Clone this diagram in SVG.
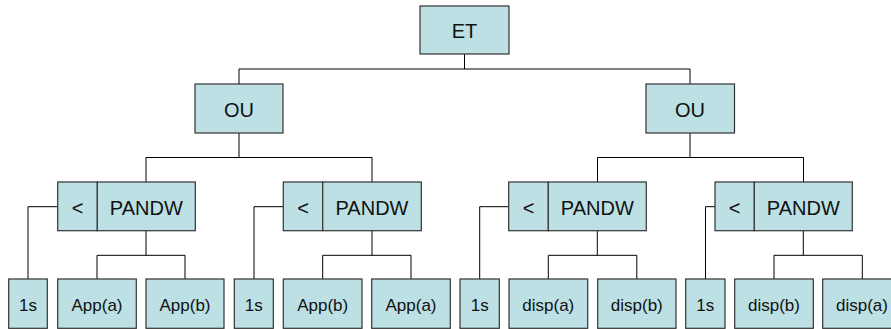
<svg xmlns="http://www.w3.org/2000/svg" width="891" height="329" viewBox="0 0 891 329">
<style>
.box{fill:#BCE0E3;stroke:#333;stroke-width:1.2}
.t{font-family:"Liberation Sans",Arial,sans-serif;font-size:20px;fill:#111;text-anchor:middle}
.s{font-family:"Liberation Sans",Arial,sans-serif;font-size:17px;fill:#111;text-anchor:middle}
.c{fill:none;stroke:#000;stroke-width:1}
</style>
<rect width="891" height="329" fill="#fff"/>
<g id="connectors">
<path class="c" d="M464.5 54V69M239 69H690M239 69V84M690 69V84"/>
<path class="c" d="M239 133V157.5M146 157.5H372M146 157.5V182M372 157.5V182"/>
<path class="c" d="M690 133V157.5M597.5 157.5H803.5M597.5 157.5V182M803.5 157.5V182"/>
<path class="c" d="M57.7 206.7H28V279M146 230.7V255.3M97 255.3H185M97 255.3V279M185 255.3V279"/>
<path class="c" d="M283.3 206.7H254V279M372 230.7V255.3M322.7 255.3H411M322.7 255.3V279M411 255.3V279"/>
<path class="c" d="M508.7 206.7H479.7V279M597.3 230.7V255.3M548.3 255.3H636.8M548.3 255.3V279M636.8 255.3V279"/>
<path class="c" d="M715 206.7H705.5V279M803.3 230.7V255.3M774 255.3H862.3M774 255.3V279M862.3 255.3V279"/>
</g>
<g id="et"><rect class="box" x="420" y="6" width="89" height="48"/><text class="t" x="464.5" y="37.5">ET</text></g>
<g id="ou1"><rect class="box" x="195" y="84" width="88" height="49"/><text class="t" x="239" y="116.5">OU</text></g>
<g id="ou2"><rect class="box" x="646" y="84" width="88.5" height="49"/><text class="t" x="690" y="116.5">OU</text></g>

<g id="g1">
<rect class="box" x="57.7" y="182" width="39.6" height="48.7"/><text class="t" x="77.5" y="214.5">&lt;</text>
<rect class="box" x="97.3" y="182" width="98" height="48.7"/><text class="t" x="146.3" y="214.5">PANDW</text>
</g>
<g id="g2">
<rect class="box" x="283.3" y="182" width="39.4" height="48.7"/><text class="t" x="303" y="214.5">&lt;</text>
<rect class="box" x="322.7" y="182" width="98.6" height="48.7"/><text class="t" x="372" y="214.5">PANDW</text>
</g>
<g id="g3">
<rect class="box" x="508.7" y="182" width="39.6" height="48.7"/><text class="t" x="528.5" y="214.5">&lt;</text>
<rect class="box" x="548.3" y="182" width="98" height="48.7"/><text class="t" x="597.3" y="214.5">PANDW</text>
</g>
<g id="g4">
<rect class="box" x="715" y="182" width="39.3" height="48.7"/><text class="t" x="734.6" y="214.5">&lt;</text>
<rect class="box" x="754.3" y="182" width="98" height="48.7"/><text class="t" x="803.3" y="214.5">PANDW</text>
</g>

<g id="l1"><rect class="box" x="8.7" y="279" width="38.6" height="49.3"/><text class="s" x="28" y="311">1s</text></g>
<g id="l2"><rect class="box" x="57.7" y="279" width="78.6" height="49.3"/><text class="s" x="97" y="311">App(a)</text></g>
<g id="l3"><rect class="box" x="146" y="279" width="78" height="49.3"/><text class="s" x="185" y="311">App(b)</text></g>
<g id="l4"><rect class="box" x="234.3" y="279" width="39" height="49.3"/><text class="s" x="253.8" y="311">1s</text></g>
<g id="l5"><rect class="box" x="283.3" y="279" width="78.7" height="49.3"/><text class="s" x="322.7" y="311">App(b)</text></g>
<g id="l6"><rect class="box" x="371.7" y="279" width="78.6" height="49.3"/><text class="s" x="411" y="311">App(a)</text></g>
<g id="l7"><rect class="box" x="460" y="279" width="39.3" height="49.3"/><text class="s" x="479.7" y="311">1s</text></g>
<g id="l8"><rect class="box" x="509" y="279" width="78.7" height="49.3"/><text class="s" x="548.3" y="311">disp(a)</text></g>
<g id="l9"><rect class="box" x="597.7" y="279" width="78.3" height="49.3"/><text class="s" x="636.8" y="311">disp(b)</text></g>
<g id="l10"><rect class="box" x="685.7" y="279" width="39.3" height="49.3"/><text class="s" x="705.3" y="311">1s</text></g>
<g id="l11"><rect class="box" x="734.7" y="279" width="78.6" height="49.3"/><text class="s" x="774" y="311">disp(b)</text></g>
<g id="l12"><rect class="box" x="822.7" y="279" width="78.6" height="49.3"/><text class="s" x="862" y="311">disp(a)</text></g>
</svg>
